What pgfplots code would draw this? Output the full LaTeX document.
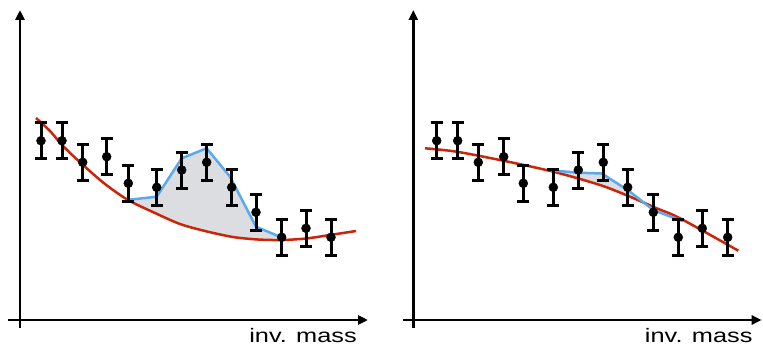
\documentclass[border=0pt]{standalone}
\usepackage{pgfplots}
\pgfplotsset{compat=1.18}
\usepackage{fontspec}
\setmainfont{Liberation Sans}
\usetikzlibrary{arrows.meta}
\definecolor{fitred}{RGB}{204,36,8}
\definecolor{sigblue}{RGB}{88,170,236}
\definecolor{fillgrey}{RGB}{220,221,224}
\pgfplotsset{
  panel/.style={
    x=1pt, y=1pt,
    axis lines=middle,
    axis line style={line width=2.6pt, -{Triangle[length=10pt,width=9pt]}},
    xtick=\empty, ytick=\empty,
    ymin=-8, ymax=310,
    clip=false,
    anchor=origin,
  },
  datapts/.style={
    only marks, mark=*, mark size=4.5pt, black,
    error bars/.cd, y dir=both, y explicit,
    error bar style={line width=3pt, black},
    error mark options={line width=3pt, mark size=6pt, black, rotate=90},
  },
  fitline/.style={fitred, line width=2.5pt, smooth, no marks},
  sigline/.style={sigblue, line width=2.5pt, no marks},
}
\begin{document}
\begin{tikzpicture}
\useasboundingbox (0,0) rectangle (763pt,346pt);
% ---------- left panel ----------
\begin{axis}[panel, at={(20pt,26pt)}, xmin=-12, xmax=348]
\addplot[fill=fillgrey, draw=none] coordinates {
 (106.7,120) (136.7,123.3) (161.7,161.7) (186.7,171.7) (210,143.3) (236,93.3) (261.7,82.5)
 (262,80) (238,80.5) (213,83) (185,89) (160,96) (135,107) (108,120)} -- cycle;
\addplot[fitline] coordinates {
 (16,202) (30,189) (43,174) (63,155) (85,136) (108,120) (135,107) (160,96)
 (185,89) (213,83) (238,80.5) (262,80) (286,81.5) (310,85) (336,89)};
\addplot[sigline] coordinates {
 (106.7,120) (136.7,123.3) (161.7,161.7) (186.7,171.7) (210,143.3) (236,93.3) (261.7,82.5)};
\addplot[datapts] coordinates {
 (21,179.3) +- (0,18)
 (42,179.3) +- (0,18)
 (62.7,157.7) +- (0,18)
 (86.7,163.3) +- (0,18)
 (108.3,136.7) +- (0,18)
 (136.7,132.7) +- (0,18)
 (161.7,150) +- (0,18)
 (186.7,157.7) +- (0,18)
 (211.7,132.7) +- (0,18)
 (236,107.7) +- (0,18)
 (261.7,82.7) +- (0,18)
 (286,91.7) +- (0,18)
 (311,82.7) +- (0,18)};
\node[anchor=base east, inner sep=0pt, font=\fontsize{19.5}{24}\selectfont]
  at (axis cs:337,-22) {\scalebox{1.3}[1]{inv. mass}};
\end{axis}
% ---------- right panel ----------
\begin{axis}[panel, at={(413.3pt,26pt)}, xmin=-10.3, xmax=348.4]
\addplot[fill=fillgrey, draw=none] coordinates {
 (140,149.3) (165,147.3) (188.4,146.5) (214.4,130) (240,110) (264.7,101.5)
 (243.4,111.7) (216.7,123.3) (186.7,135) (165,142) (140,148.3)} -- cycle;
\addplot[fitline] coordinates {
 (11.7,171.7) (43.4,168.3) (90,159.3) (140,148.3) (186.7,135) (216.7,123.3)
 (243.4,111.7) (266.7,101.7) (325,69.3)};
\addplot[sigline] coordinates {
 (138,149.6) (165,147.3) (188.4,146.5) (214.4,130) (240,110) (264.7,100.5) (270,99)};
\addplot[datapts] coordinates {
 (23.4,179.3) +- (0,18)
 (44.4,179.3) +- (0,18)
 (65,157.7) +- (0,18)
 (90.4,163.3) +- (0,18)
 (110,136.7) +- (0,18)
 (140,132.7) +- (0,18)
 (165,150) +- (0,18)
 (190,157.7) +- (0,18)
 (214.4,132.7) +- (0,18)
 (240,107.7) +- (0,18)
 (265,82.7) +- (0,18)
 (289,91.7) +- (0,18)
 (314.4,82.7) +- (0,18)};
\node[anchor=base east, inner sep=0pt, font=\fontsize{19.5}{24}\selectfont]
  at (axis cs:339.4,-22) {\scalebox{1.3}[1]{inv. mass}};
\end{axis}
\end{tikzpicture}
\end{document}
